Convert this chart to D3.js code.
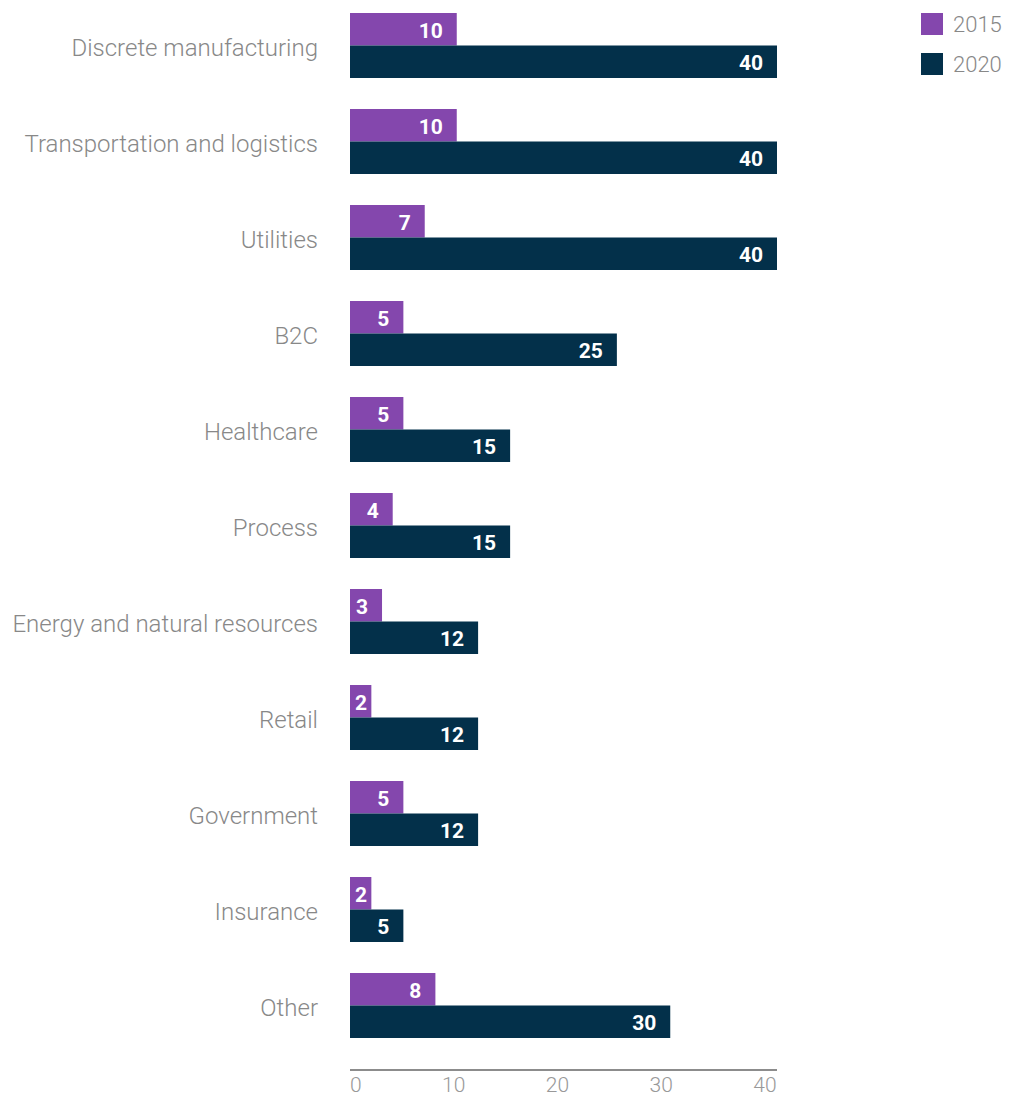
<!DOCTYPE html>
<html>
<head>
<meta charset="utf-8">
<script src="https://cdn.jsdelivr.net/npm/d3@7"></script>
<style>
  body { margin: 0; background: #fff; }
  text { font-family: Roboto, "Open Sans", sans-serif; }
</style>
</head>
<body>
<div id="chart"></div>
<script>
let categories = ["Discrete manufacturing", "Transportation and logistics", "Utilities", "B2C",
  "Healthcare", "Process", "Energy and natural resources", "Retail", "Government", "Insurance", "Other"];
let values2015 = [10, 10, 7, 5, 5, 4, 3, 2, 5, 2, 8];
let values2020 = [40, 40, 40, 25, 15, 15, 12, 12, 12, 5, 30];
let seriesNames = ["2015", "2020"];
let seriesColors = ["#8447ad", "#03304a"];
let xTicks = [0, 10, 20, 30, 40];

let w = 1009;
let h = 1105;

let svg = d3.select("#chart").append("svg")
  .attr("width", w)
  .attr("height", h);

let x = d3.scaleLinear().domain([0, 40]).range([350, 777]);

let y = d3.scaleBand().domain(categories)
  .range([13, 1038])
  .paddingInner(31 / 96)
  .paddingOuter(0);

let ySub = d3.scaleBand().domain(seriesNames).range([0, y.bandwidth()]);

let data = categories.map(function(c, i){
  return { cat: c, vals: [values2015[i], values2020[i]] };
});

let groups = svg.selectAll(".grp").data(data).enter()
  .append("g")
    .attr("class", "grp")
    .attr("transform", d => "translate(0," + y(d.cat) + ")");

// category label
groups.append("text")
  .attr("x", 318)
  .attr("y", y.bandwidth() / 2 + 2)
  .attr("dy", "0.35em")
  .attr("text-anchor", "end")
  .attr("font-size", 24)
  .attr("font-weight", 300)
  .attr("fill", "#888")
  .text(d => d.cat);

seriesNames.forEach(function(s, k){
  groups.append("rect")
    .attr("x", x(0))
    .attr("y", ySub(s))
    .attr("width", d => x(d.vals[k]) - x(0))
    .attr("height", ySub.bandwidth())
    .attr("fill", seriesColors[k]);

  groups.append("text")
    .attr("class", "val")
    .attr("y", ySub(s) + ySub.bandwidth() / 2 + 8.5)
    .attr("font-size", 21)
    .attr("font-weight", 700)
    .attr("fill", "#fff")
    .text(d => d.vals[k])
    .each(function(d){
      let t = d3.select(this);
      let tw = this.getComputedTextLength();
      let endX = x(d.vals[k]) - 14;
      if (endX - tw < x(0) + 5) {
        t.attr("x", x(0) + 5).attr("text-anchor", "start");
      } else {
        t.attr("x", endX).attr("text-anchor", "end");
      }
    });
});

// x axis
svg.append("line")
  .attr("x1", x(0)).attr("x2", x(40))
  .attr("y1", 1070).attr("y2", 1070)
  .attr("stroke", "#666")
  .attr("stroke-width", 1.5);

svg.selectAll(".tick").data(xTicks).enter()
  .append("text")
    .attr("class", "tick")
    .attr("x", d => d == 0 ? x(d) : x(d) - (d / 40) * 12)
    .attr("y", 1092)
    .attr("text-anchor", d => d == 0 ? "start" : "middle")
    .attr("font-size", 21)
    .attr("font-weight", 300)
    .attr("fill", "#999")
    .text(d => d);

// legend
let legend = svg.selectAll(".leg").data(seriesNames).enter()
  .append("g")
    .attr("class", "leg")
    .attr("transform", (d, i) => "translate(921," + (13 + i * 40) + ")");

legend.append("rect")
  .attr("width", 22)
  .attr("height", 22)
  .attr("fill", (d, i) => seriesColors[i]);

legend.append("text")
  .attr("x", 32)
  .attr("y", 19)
  .attr("font-size", 22)
  .attr("font-weight", 300)
  .attr("fill", "#888")
  .text(d => d);
</script>
</body>
</html>
